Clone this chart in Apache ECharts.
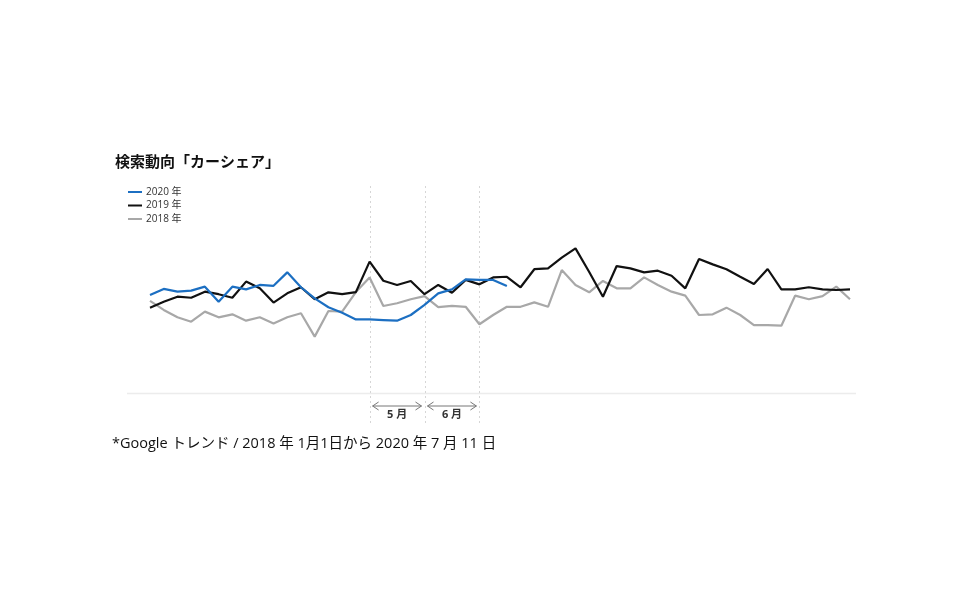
<!DOCTYPE html>
<html><head><meta charset="utf-8">
<script src="https://cdn.jsdelivr.net/npm/echarts@6/dist/echarts.min.js"></script>
<style>html,body{margin:0;padding:0;background:#fff}#c{width:968px;height:605px}</style>
</head><body><div id="c"></div>
<script>
const weeks = Array.from({length:52}, (_, i) => 'W' + (i + 1));
const s2020 = [47.6,50.5,49.2,49.7,51.6,44.4,51.6,50.3,52.4,52.0,58.4,51.3,46.0,41.8,39.2,36.0,36.0,35.7,35.4,38.1,42.9,48.4,50.3,55.1,54.8,54.8,51.9];
const s2019 = [41.6,44.4,46.8,46.3,49.2,48.0,46.3,54.0,50.8,44.0,48.4,51.3,45.6,48.9,48.0,49.0,63.5,54.4,52.4,54.3,48.0,52.4,48.7,54.8,52.7,56.0,56.3,51.3,59.9,60.3,65.4,69.8,58.6,46.8,61.4,60.3,58.4,59.2,56.8,50.8,64.8,62.2,59.9,56.3,52.9,60.0,50.3,50.3,51.3,50.3,50.0,50.3];
const s2018 = [44.8,40.5,37.0,34.9,39.7,37.0,38.4,35.4,37.0,34.1,37.0,38.9,27.8,40.0,39.7,49.0,56.0,42.4,43.7,45.6,47.1,41.8,42.4,42.0,33.7,38.1,42.0,42.0,44.1,42.0,59.5,52.4,48.9,54.3,50.8,50.8,56.0,52.4,49.2,47.3,38.1,38.4,41.6,38.1,33.3,33.3,33.0,47.3,45.6,47.1,51.6,45.6];
const seriesNames = ['2020 年','2019 年','2018 年'];
const monthMarks = [16, 20, 24];
const monthLabels = ['5 月','6 月'];
const titleText = '検索動向「カーシェア」';
const noteText = '*Google トレンド / 2018 年 1月1日から 2020 年 7 月 11 日';

const FONT = '"Noto Sans CJK JP", "Noto Sans", sans-serif';
const FONT2 = '"Open Sans", "Noto Sans CJK JP", sans-serif';
const colors = ['#1c6fc2','#111111','#a8a8a8'];
const chart = echarts.init(document.getElementById('c'), null, {renderer:'canvas'});
const mk = (name, data, color, z) => ({
  name, type:'line', data, symbol:'none', z,
  lineStyle:{color, width:2.2}, itemStyle:{color}, animation:false
});
chart.setOption({
  animation:false,
  backgroundColor:'#fff',
  title:{text:titleText, left:110, top:149, textStyle:{fontFamily:FONT, fontSize:15, fontWeight:'bold', color:'#111'}},
  legend:{orient:'vertical', left:123, top:182, itemWidth:14, itemHeight:2, itemGap:3.5,
    icon:'rect', data:seriesNames,
    textStyle:{fontFamily:FONT2, fontSize:10, color:'#333', padding:[0,0,0,-1]}},
  grid:{left:150, right:118, top:185, bottom:210},
  xAxis:{type:'category', data:weeks, boundaryGap:false, show:false},
  yAxis:{type:'value', min:0, max:100, show:false},
  series:[mk(seriesNames[2], s2018, colors[2], 1), mk(seriesNames[1], s2019, colors[1], 2), mk(seriesNames[0], s2020, colors[0], 3)]
});

const px = i => chart.convertToPixel({xAxisIndex:0}, i);
const g = [];
g.push({type:'line', shape:{x1:127, y1:393.5, x2:856, y2:393.5}, style:{stroke:'#ececec', lineWidth:1.5}, silent:true});
monthMarks.forEach(i => {
  const x = Math.round(px(i)) + 0.5;
  g.push({type:'line', shape:{x1:x, y1:186, x2:x, y2:426}, style:{stroke:'#d6d6d6', lineWidth:1, lineDash:[2,3]}, silent:true, z:0});
});
for (let k = 0; k < monthLabels.length; k++) {
  const a = px(monthMarks[k]) + 3, b = px(monthMarks[k+1]) - 3, y = 406;
  g.push({type:'line', shape:{x1:a, y1:y, x2:b, y2:y}, style:{stroke:'#777', lineWidth:1}});
  g.push({type:'polyline', shape:{points:[[a+6,y-4],[a,y],[a+6,y+4]]}, style:{stroke:'#777', lineWidth:1, fill:null}});
  g.push({type:'polyline', shape:{points:[[b-6,y-4],[b,y],[b-6,y+4]]}, style:{stroke:'#777', lineWidth:1, fill:null}});
  g.push({type:'text', x:(a+b)/2, y:415, style:{text:monthLabels[k], fontFamily:FONT2, fontSize:11, fontWeight:'bold', fill:'#333', align:'center', verticalAlign:'middle'}});
}
g.push({type:'text', x:112, y:444, style:{text:noteText, fontFamily:FONT2, fontSize:14.5, fontWeight:'normal', fill:'#111', verticalAlign:'middle'}});
chart.setOption({graphic:g});
</script></body></html>
